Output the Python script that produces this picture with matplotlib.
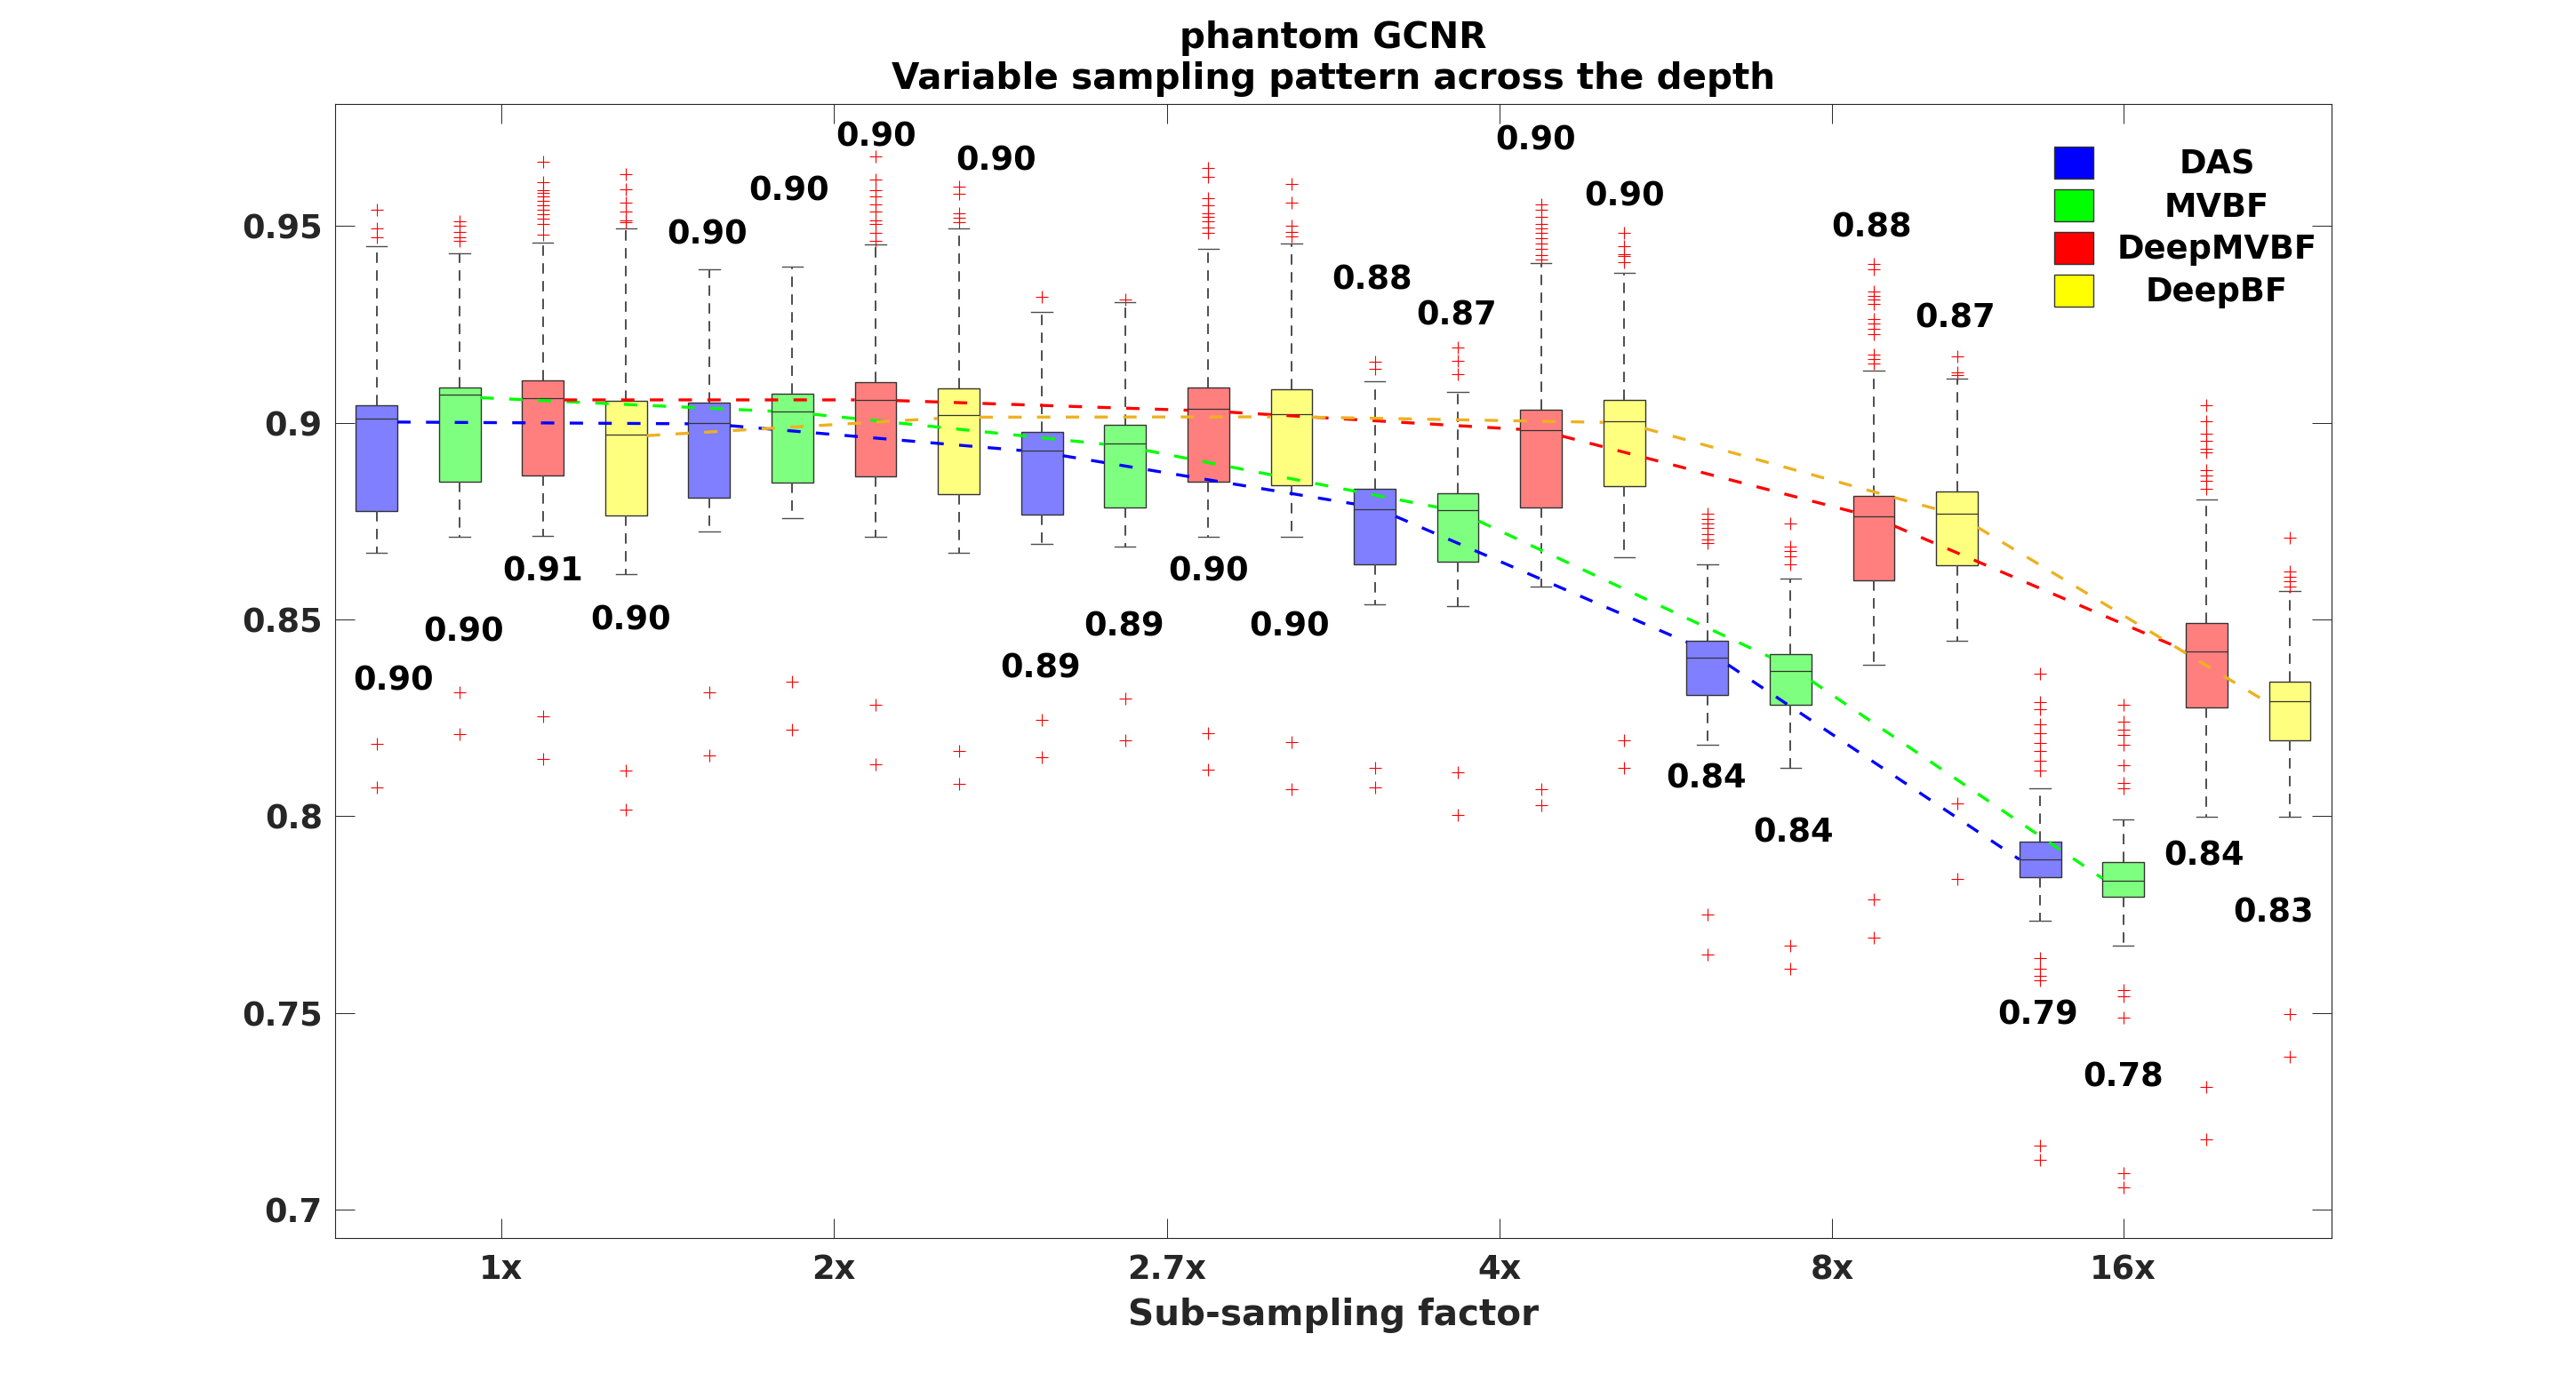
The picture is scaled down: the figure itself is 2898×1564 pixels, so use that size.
import numpy as np
import matplotlib
matplotlib.use('Agg')
from matplotlib import pyplot as plt
from matplotlib.patches import Patch

methods = ['DAS', 'MVBF', 'DeepMVBF', 'DeepBF']
factors = ['1x', '2x', '2.7x', '4x', '8x', '16x']
factor_ticks = [2.5, 6.5, 10.5, 14.5, 18.5, 22]
y_ticks = [0.7, 0.75, 0.8, 0.85, 0.9, 0.95]
y_ticklabels = ['0.7', '0.75', '0.8', '0.85', '0.9', '0.95']

# box statistics, one entry per box (factor by factor, 4 methods each)
whislo = [0.8669, 0.8711, 0.8713, 0.8616, 0.8723, 0.8758, 0.8711, 0.8669,
          0.8693, 0.8686, 0.8711, 0.8711, 0.8538, 0.8535, 0.8583, 0.8658,
          0.8181, 0.8124, 0.8385, 0.8446, 0.7735, 0.7672, 0.7999, 0.7999]
q1 = [0.8776, 0.8851, 0.8866, 0.8765, 0.8809, 0.8848, 0.8863, 0.8818,
      0.8767, 0.8785, 0.8850, 0.8842, 0.8641, 0.8647, 0.8785, 0.8839,
      0.8308, 0.8284, 0.8599, 0.8638, 0.7846, 0.7796, 0.8277, 0.8194]
med = [0.9010, 0.9071, 0.9063, 0.8969, 0.8999, 0.9028, 0.9058, 0.9019,
       0.8929, 0.8947, 0.9036, 0.9021, 0.8781, 0.8778, 0.8980, 0.9003,
       0.8404, 0.8369, 0.8763, 0.8769, 0.7890, 0.7836, 0.8419, 0.8293]
q3 = [0.9045, 0.9089, 0.9108, 0.9056, 0.9050, 0.9074, 0.9102, 0.9087,
      0.8977, 0.8995, 0.9089, 0.9085, 0.8831, 0.8820, 0.9032, 0.9058,
      0.8446, 0.8411, 0.8815, 0.8826, 0.7936, 0.7884, 0.8490, 0.8343]
whishi = [0.9448, 0.9430, 0.9458, 0.9493, 0.9391, 0.9397, 0.9452, 0.9493,
          0.9281, 0.9307, 0.9441, 0.9456, 0.9106, 0.9078, 0.9406, 0.9380,
          0.8641, 0.8603, 0.9133, 0.9111, 0.8070, 0.7991, 0.8805, 0.8572]
fliers = [
    [0.9541, 0.9493, 0.9471, 0.8183, 0.8074],
    [0.9511, 0.9500, 0.9485, 0.9471, 0.9463, 0.8314, 0.8209],
    [0.9664, 0.9612, 0.9592, 0.9585, 0.9574, 0.9563, 0.9552, 0.9541, 0.9529,
     0.9518, 0.9506, 0.9478, 0.8253, 0.8146],
    [0.9631, 0.9594, 0.9559, 0.9537, 0.9515, 0.9509, 0.8115, 0.8017],
    [0.8314, 0.8155],
    [0.8343, 0.8221],
    [0.9677, 0.9618, 0.9592, 0.9574, 0.9555, 0.9537, 0.9515, 0.9506, 0.9482,
     0.9463, 0.8284, 0.8133],
    [0.9599, 0.9581, 0.9533, 0.9520, 0.9509, 0.8166, 0.8083],
    [0.9320, 0.8244, 0.8151],
    [0.9312, 0.8299, 0.8194],
    [0.9647, 0.9625, 0.9570, 0.9552, 0.9533, 0.9524, 0.9511, 0.9496, 0.9482,
     0.8210, 0.8118],
    [0.9607, 0.9559, 0.9500, 0.9485, 0.9474, 0.8188, 0.8069],
    [0.9155, 0.9137, 0.8122, 0.8074],
    [0.9191, 0.9157, 0.9124, 0.8111, 0.8004],
    [0.9555, 0.9542, 0.9524, 0.9506, 0.9493, 0.9482, 0.9469, 0.9456, 0.9441,
     0.9426, 0.9415, 0.8069, 0.8028],
    [0.9482, 0.9448, 0.9428, 0.9423, 0.9408, 0.8192, 0.8122],
    [0.8769, 0.8756, 0.8745, 0.8732, 0.8717, 0.8704, 0.8695, 0.7750, 0.7649],
    [0.8743, 0.8686, 0.8673, 0.8660, 0.8641, 0.7672, 0.7612],
    [0.9404, 0.9389, 0.9334, 0.9323, 0.9312, 0.9301, 0.9264, 0.9253, 0.9238,
     0.9224, 0.9174, 0.9161, 0.9150, 0.7789, 0.7691],
    [0.9168, 0.9128, 0.9120, 0.8032, 0.7840],
    [0.8363, 0.8290, 0.8271, 0.8234, 0.8211, 0.8185, 0.8166, 0.8142, 0.8115,
     0.7639, 0.7613, 0.7595, 0.7584, 0.7164, 0.7127],
    [0.8284, 0.8240, 0.8221, 0.8207, 0.8181, 0.8129, 0.8085, 0.8070, 0.7558,
     0.7543, 0.7488, 0.7092, 0.7057],
    [0.9045, 0.9003, 0.8971, 0.8953, 0.8934, 0.8925, 0.8879, 0.8866, 0.8852,
     0.8833, 0.7313, 0.7179],
    [0.8708, 0.8621, 0.8608, 0.8597, 0.8584, 0.7497, 0.7389],
]

# mean per method over the sub-sampling factors
mean_das = [0.9002, 0.8997, 0.8925, 0.8785, 0.8420, 0.7855]
mean_mvbf = [0.9066, 0.9027, 0.8940, 0.8775, 0.8380, 0.7806]
mean_deepmvbf = [0.9058, 0.9058, 0.9030, 0.8980, 0.8760, 0.8398]
mean_deepbf = [0.8964, 0.9014, 0.9015, 0.9000, 0.8766, 0.8255]

labels = ['0.90', '0.90', '0.91', '0.90', '0.90', '0.90', '0.90', '0.90',
          '0.89', '0.89', '0.90', '0.90', '0.88', '0.87', '0.90', '0.90',
          '0.84', '0.84', '0.88', '0.87', '0.79', '0.78', '0.84', '0.83']
label_x = [1.20, 2.05, 3.00, 4.06, 4.98, 5.96, 7.01, 8.45, 8.98, 9.99, 11.00, 11.97,
           12.97, 13.98, 14.94, 16.00, 16.99, 18.03, 18.97, 19.98, 20.97, 22.00, 22.97, 23.80]
label_y = [0.8345, 0.8468, 0.8621, 0.8498, 0.9478, 0.9588, 0.9727, 0.9666,
           0.8376, 0.8483, 0.8621, 0.8483, 0.9362, 0.9272, 0.9717, 0.9574,
           0.8096, 0.7958, 0.9496, 0.9266, 0.7496, 0.7337, 0.7899, 0.7755]

plt.rcParams['font.family'] = 'DejaVu Sans'
plt.rcParams['font.weight'] = 'bold'

fig = plt.figure(figsize=(28.98, 15.64), dpi=100)
ax = fig.add_axes([0.130, 0.1093, 0.775, 0.8159])

face = [(0, 0, 1, 0.5), (0, 1, 0, 0.5), (1, 0, 0, 0.5), (1, 1, 0, 0.5)]
solid = ['#0000ff', '#00ff00', '#ff0000', '#ffff00']
line_col = ['#0000ff', '#00ff00', '#ff0000', '#edb120']

pos = np.arange(1, len(med) + 1)
stats = [dict(whislo=whislo[i], q1=q1[i], med=med[i], q3=q3[i],
              whishi=whishi[i], fliers=fliers[i]) for i in range(len(med))]
bp = ax.bxp(stats, positions=pos, widths=0.5, patch_artist=True, showfliers=True,
            boxprops=dict(edgecolor='0.2', linewidth=1.0),
            whiskerprops=dict(color='0.3', linewidth=1.4, linestyle=(0, (6, 4.3))),
            capprops=dict(color='0.3', linewidth=1.0),
            medianprops=dict(color='0.2', linewidth=0.9),
            flierprops=dict(marker='+', markeredgecolor='red', markersize=9.6,
                            markeredgewidth=0.8, linestyle='none'))
for i, b in enumerate(bp['boxes']):
    b.set_facecolor(face[i % 4])

# dashed mean lines, interrupted inside each method's own boxes
for m, vals in enumerate([mean_das, mean_mvbf, mean_deepmvbf, mean_deepbf]):
    p = pos[m::4]
    xs, ys = [], []
    for k in range(len(p) - 1):
        x0, x1 = p[k] + 0.25, p[k + 1] - 0.25
        xs += [x0, x1, np.nan]
        ys += list(np.interp([x0, x1], p, vals)) + [np.nan]
    ax.plot(xs, ys, color=line_col[m], lw=2.4, linestyle=(0, (4.5, 5.2)), zorder=3)

for t, x, y in zip(labels, label_x, label_y):
    ax.text(x, y, t, ha='center', va='center', fontsize=26.5, fontweight='bold', zorder=5)

ax.set_xlim(0.5, 24.5)
ax.set_ylim(0.6928, 0.981)
ax.set_xticks(factor_ticks, factors)
ax.set_yticks(y_ticks, y_ticklabels)
ax.tick_params(direction='in', length=16, width=0.7, top=True, right=True,
               labelsize=26.5, colors='0.15')
ax.tick_params(axis='x', pad=12.5)
ax.tick_params(axis='y', pad=10)
for s in ax.spines.values():
    s.set_color('0.15')
    s.set_linewidth(0.8)

ax.set_title('phantom GCNR\nVariable sampling pattern across the depth',
             fontsize=29.2, fontweight='bold', pad=12)
ax.set_xlabel('Sub-sampling factor', fontsize=29.2, fontweight='bold', labelpad=9, color='0.15')

handles = [Patch(facecolor=c, edgecolor='0.2', linewidth=1.0) for c in solid]
leg = ax.legend(handles, methods, loc='upper left', bbox_to_anchor=(0.861, 0.962),
                frameon=False, prop=dict(weight='bold', size=26.5),
                handlelength=1.2, handleheight=1.11, handletextpad=0.73,
                labelspacing=0.26, borderpad=0, borderaxespad=0)
fig.canvas.draw()
widths = [t.get_window_extent().width for t in leg.get_texts()]
for t, w in zip(leg.get_texts(), widths):
    t.set_x((max(widths) - w) / 2)

fig.savefig('out.png', dpi=100, facecolor='white')
